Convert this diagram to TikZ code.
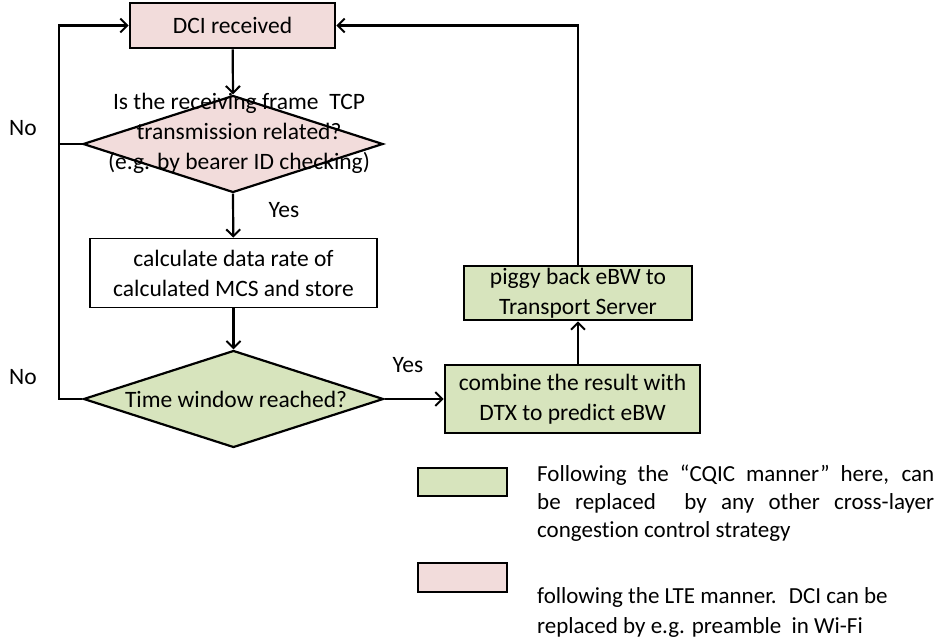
\documentclass[tikz,border=0pt]{standalone}
\usepackage{fontspec}
\setmainfont{Carlito}[Ligatures={NoCommon}]
\usetikzlibrary{shapes.geometric,arrows.meta}
\definecolor{lteFill}{HTML}{F2DCDB}
\definecolor{cqicFill}{HTML}{D7E4BD}
\begin{document}
\begin{tikzpicture}[x=1pt,y=-1pt,
  font=\fontsize{23.5}{30}\selectfont,
  box/.style={draw,line width=2.6pt,inner sep=0pt},
  decision/.style={diamond,draw,line width=2.2pt,inner sep=0pt,minimum width=300pt,minimum height=97pt},
  flow/.style={line width=2.2pt,-{Straight Barb[length=7pt,width=14pt,line width=2pt]}},
  plain/.style={line width=2.2pt}]
\useasboundingbox (0,0) rectangle (938,640);

% main flow
\node[box,fill=lteFill,minimum width=205pt,minimum height=45pt] (dci) at (232.5,25.5) {DCI received};
\node[decision,fill=lteFill] (tcp) at (233,144) {};
\node[align=center] (tcptext) at (239,133) {Is the receiving frame \ TCP\\transmission related?\\(e.g. by bearer ID checking)};
\node[box,draw,line width=1.6pt,fill=white,minimum width=287pt,minimum height=69pt,align=center] (rate) at (233.5,273)
  {calculate data rate of\\calculated MCS and store};
\node[decision,fill=cqicFill] (win) at (233.5,399) {};
\node (wintext) at (236,399) {Time window reached?};
\node[box,fill=cqicFill,minimum width=255pt,minimum height=68pt,align=center] (comb) at (572.5,399)
  {combine the result with\\DTX to predict eBW};
\node[box,fill=cqicFill,minimum width=228pt,minimum height=54pt,align=center] (pig) at (578,293)
  {piggy back eBW to\\Transport Server};

% branch labels
\node (no1) at (23,128) {No};
\node (no2) at (23,377) {No};
\node (yes1) at (284,210) {Yes};
\node (yes2) at (408,365) {Yes};

% connectors
\coordinate (loopL) at (59,25.5);
\coordinate (loopR) at (578,25.5);
\draw[flow] (dci) -- (tcp.north);
\draw[flow] (tcp.south) -- (rate);
\draw[flow] (rate) -- (win.north);
\draw[flow] (win.east) -- (comb.west);
\draw[flow] (comb.north -| pig) -- (pig.south);
\draw[flow] (pig.north) -- (loopR) -- (dci.east);
\draw[flow] (win.west) -- (win.west -| loopL) -- (loopL) -- (dci.west);
\draw[plain] (tcp.west) -- (tcp.west -| loopL);

% legend
\node[box,fill=cqicFill,minimum width=89pt,minimum height=28pt] (keyA) at (462.5,482) {};
\node[box,fill=lteFill,minimum width=89pt,minimum height=29pt] (keyB) at (462.5,577.5) {};
\node[anchor=west,align=left,inner sep=0pt,font=\fontsize{23}{28}\selectfont] (keyAtext) at (537,503)
  {\makebox[397pt][s]{Following the “CQIC manner” here, can}\\
   \makebox[397pt][s]{be replaced \ by any other cross-layer}\\
   congestion control strategy};
\node[anchor=west,align=left,inner sep=0pt,font=\fontsize{23}{30}\selectfont] (keyBtext) at (537,612)
  {following the LTE manner. \ DCI can be\\
   replaced by e.g. preamble \ in Wi-Fi};
\end{tikzpicture}
\end{document}
